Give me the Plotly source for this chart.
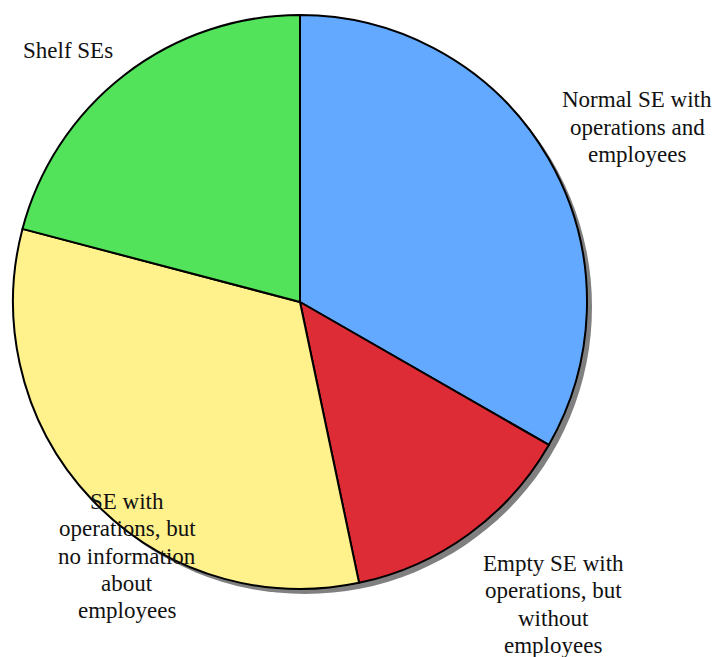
import plotly.graph_objects as go

labels = [
    "Normal SE with<br>operations and<br>employees",
    "Empty SE with<br>operations, but<br>without<br>employees",
    "SE with<br>operations, but<br>no information<br>about<br>employees",
    "Shelf SEs",
]
values = [33.3, 13.4, 32.4, 20.9]
colors = ["#62A9FF", "#DD2C35", "#FFF28C", "#52E35A"]

W, H = 715, 657

def px(x, y):
    return x / W, (H - y) / H

# pie box in window pixels (left, top, right, bottom)
L, T, R, B = 13, 15, 587, 589
off = 5

def dom(l, t, r, b):
    x0, y0 = px(l, b)
    x1, y1 = px(r, t)
    return dict(x=[x0, x1], y=[y0, y1])

fig = go.Figure()
fig.add_trace(go.Pie(
    values=[sum(values)], marker=dict(colors=["#808080"], line=dict(width=0)),
    textinfo="none", hoverinfo="skip", showlegend=False, sort=False,
    domain=dom(L + off, T + off, R + off, B + off),
))
fig.add_trace(go.Pie(
    labels=labels, values=values, sort=False, direction="clockwise", rotation=0,
    marker=dict(colors=colors, line=dict(color="black", width=2)),
    textinfo="none", showlegend=False,
    domain=dom(L, T, R, B),
))

label_pos = [(637, 127), (553, 604.5), (127, 556), (68, 50)]
LINE = 27.25
for text, (x, y) in zip(labels, label_pos):
    lines = text.split("<br>")
    n = len(lines)
    for i, line in enumerate(lines):
        ly = y + (i - (n - 1) / 2) * LINE
        ax, ay = px(x, ly)
        fig.add_annotation(
            x=ax, y=ay, xref="paper", yref="paper", text=line,
            showarrow=False, xanchor="center", yanchor="middle", align="center",
            font=dict(family="Liberation Serif, Times New Roman, serif", size=23, color="#111111"),
        )

fig.update_layout(
    width=W, height=H, margin=dict(l=0, r=0, t=0, b=0),
    paper_bgcolor="white", plot_bgcolor="white",
)
fig.write_html(
    "out.html",
    config={"displayModeBar": False},
    post_script="document.body.style.margin='0';document.body.style.overflow='hidden';",
)
